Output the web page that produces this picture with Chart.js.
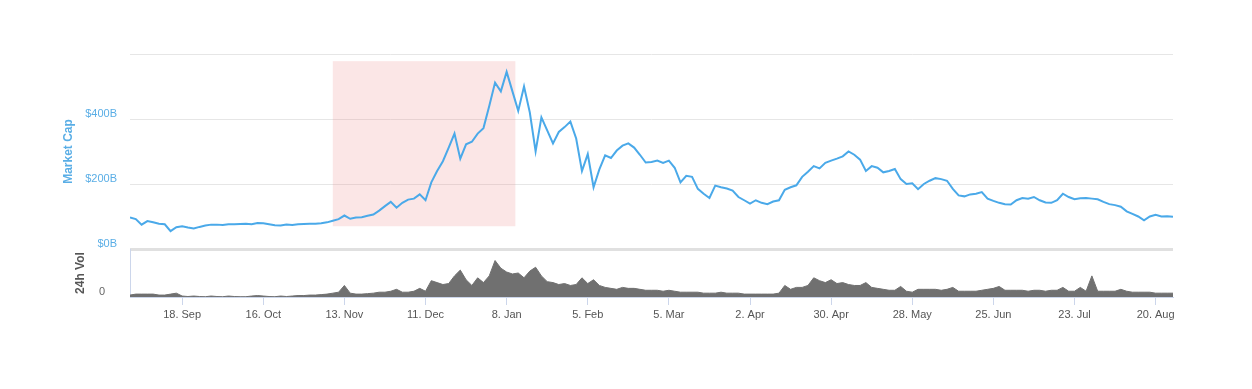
<!DOCTYPE html>
<html>
<head>
<meta charset="utf-8">
<script src="https://cdn.jsdelivr.net/npm/chart.js@4.4.0/dist/chart.umd.min.js"></script>
<style>
  html, body { margin: 0; padding: 0; background: #fff; }
  #wrap { width: 1252px; height: 389px; }
</style>
</head>
<body>
<div id="wrap"><canvas id="capChart" width="1252" height="389"></canvas></div>
<script>
// --- Data: one point every 2 days, day 0 = 31 Aug 2017 ---
const startDay = 0;
const stepDays = 2;

// total market cap excluding BTC, $B
const marketCap = [
    97, 92, 75, 86, 82, 78, 76, 55, 67, 70,
    66, 63, 68, 72, 75, 75, 74, 76, 76, 77,
    78, 76, 80, 79, 76, 73, 72, 75, 74, 76,
    77, 78, 78, 79, 82, 87, 92, 103, 93, 97,
    98, 102, 106, 118, 132, 145, 127, 142, 152, 155,
    168, 150, 205, 240, 270, 312, 355, 278, 322, 330,
    355, 372, 440, 512, 485, 545, 485, 425, 500, 420,
    300, 405, 365, 325, 360, 375, 392, 340, 240, 292,
    190, 245, 288, 280, 303, 318, 325, 312, 290, 266,
    268, 272, 265, 272, 250, 205, 225, 222, 185, 170,
    157, 195, 190, 186, 180, 160, 150, 140, 150, 142,
    138, 146, 150, 182, 190, 196, 222, 238, 255, 248,
    265, 272, 278, 285, 300, 290, 275, 240, 255, 250,
    236, 240, 246, 215, 200, 202, 184, 200, 210, 218,
    215, 210, 185, 165, 162, 168, 170, 175, 155, 148,
    142, 138, 137, 150, 157, 155, 160, 150, 143, 142,
    150, 170, 160, 153, 156, 157, 155, 153, 145, 138,
    135, 130, 116, 108, 100, 88, 100, 105, 100, 101,
    99
];

// 24h volume, $B
const volume24h = [
    2, 3, 3, 3, 3, 2, 2, 3, 4, 1,
    0.5, 1, 0.5, 0.3, 1, 0.5, 0.3, 1, 0.5, 0.3,
    0.3, 1, 1.5, 1, 0.5, 0.3, 1, 0.5, 1, 1.5,
    1.5, 2, 2, 2.5, 3, 4, 5, 12, 4, 3,
    3, 3.5, 4, 5, 5, 6, 8, 5, 5, 6,
    9, 6, 17, 15, 13, 14, 22, 28, 18, 12,
    20, 15, 22, 38, 30, 26, 24, 25, 20, 27,
    31, 22, 16, 15, 13, 14, 12, 13, 20, 14,
    18, 12, 10, 9, 8, 10, 9, 9, 8, 7,
    7, 7, 6, 7, 6, 5, 5, 5, 5, 4,
    4, 4, 5, 4, 4, 4, 3, 3, 3, 3,
    3, 3, 4, 12, 8, 10, 10, 12, 20, 17,
    15, 18, 14, 15, 13, 12, 12, 15, 10, 9,
    8, 7, 7, 11, 6, 5, 8, 8, 8, 8,
    7, 8, 10, 6, 6, 6, 6, 7, 8, 9,
    11, 7, 7, 7, 7, 6, 7, 7, 6, 7,
    7, 10, 6, 6, 10, 6, 22, 6, 6, 6,
    6, 8, 6, 5, 5, 5, 5, 4, 4, 4,
    4
];

const tickDays = [18, 46, 74, 102, 130, 158, 186, 214, 242, 270, 298, 326, 354];
const tickLabels = ['18. Sep', '16. Oct', '13. Nov', '11. Dec', '8. Jan', '5. Feb', '5. Mar',
    '2. Apr', '30. Apr', '28. May', '25. Jun', '23. Jul', '20. Aug'];
const capTicks = [0, 200, 400, 600];

// highlighted range: days and $B
const zoomDays = [70, 133];
const zoomCap = [70, 578];

document.addEventListener('DOMContentLoaded', function () {

    const days = marketCap.map((_, i) => startDay + i * stepDays);

    const zoomBoxPlugin = {
        id: 'zoomBox',
        beforeDatasetsDraw(chart) {
            const { ctx, scales: { x, y } } = chart;
            const left = x.getPixelForValue(zoomDays[0]);
            const right = x.getPixelForValue(zoomDays[1]);
            const top = y.getPixelForValue(zoomCap[1]);
            const bottom = y.getPixelForValue(zoomCap[0]);
            ctx.save();
            ctx.fillStyle = 'rgba(235, 130, 130, 0.2)';
            ctx.fillRect(left, top, right - left, bottom - top);
            ctx.restore();
        }
    };

    const font = { family: "'Liberation Sans', Arial, sans-serif", size: 11 };

    new Chart(document.getElementById('capChart'), {
        type: 'line',
        data: {
            datasets: [{
                label: 'Market Cap',
                data: days.map((d, i) => ({ x: d, y: marketCap[i] })),
                yAxisID: 'y',
                borderColor: '#4aa9e9',
                borderWidth: 2,
                pointRadius: 0,
                tension: 0,
                fill: false
            }, {
                label: '24h Vol',
                data: days.map((d, i) => ({ x: d, y: volume24h[i] })),
                yAxisID: 'y2',
                borderColor: '#707070',
                borderWidth: 1,
                backgroundColor: '#707070',
                pointRadius: 0,
                tension: 0,
                fill: 'origin'
            }]
        },
        options: {
            responsive: false,
            animation: false,
            layout: { padding: { top: 54, right: 79, bottom: 67, left: 0 } },
            plugins: { legend: { display: false }, tooltip: { enabled: false } },
            scales: {
                x: {
                    type: 'linear',
                    min: 0,
                    max: 360,
                    afterBuildTicks: s => { s.ticks = tickDays.map(v => ({ value: v })); },
                    ticks: {
                        callback: v => tickLabels[tickDays.indexOf(v)],
                        color: '#555',
                        font: font,
                        padding: 3,
                        maxRotation: 0,
                        autoSkip: false
                    },
                    grid: { drawOnChartArea: false, color: '#ccd6eb', tickLength: 8 },
                    border: { color: '#ccd6eb' },
                    afterFit: s => { s.height = 25; }
                },
                // lower pane first: later left boxes are stacked on top
                y2: {
                    type: 'linear',
                    position: 'left',
                    stack: 'panes',
                    stackWeight: 48,
                    min: 0,
                    max: 50,
                    afterBuildTicks: s => { s.ticks = [{ value: 0 }]; },
                    ticks: {
                        color: '#666',
                        font: font,
                        padding: 17,
                        labelOffset: -5
                    },
                    grid: { display: false },
                    border: { display: true, color: '#ccd6eb' },
                    title: {
                        display: true,
                        text: '24h Vol',
                        color: '#555',
                        font: { family: font.family, size: 12, weight: 'bold' },
                        padding: { top: 73, bottom: 0 }
                    },
                    afterFit: s => { s.width = 130; }
                },
                y: {
                    type: 'linear',
                    position: 'left',
                    stack: 'panes',
                    stackWeight: 195,
                    min: 0,
                    max: 600,
                    afterBuildTicks: s => { s.ticks = capTicks.map(v => ({ value: v })); },
                    ticks: {
                        callback: v => v === 600 ? '' : '$' + v + 'B',
                        color: '#5aaee6',
                        font: font,
                        padding: 13,
                        labelOffset: -5
                    },
                    grid: {
                        color: c => c.tick && c.tick.value === 0 ? '#e0e0e0' : '#e6e6e6',
                        lineWidth: c => c.tick && c.tick.value === 0 ? 3 : 1,
                        drawTicks: false
                    },
                    border: { display: false },
                    title: {
                        display: true,
                        text: 'Market Cap',
                        color: '#5aaee6',
                        font: { family: font.family, size: 12, weight: 'bold' },
                        padding: { top: 61, bottom: 0 }
                    },
                    afterFit: s => { s.width = 130; }
                }
            }
        },
        plugins: [zoomBoxPlugin]
    });
});
</script>
</body>
</html>
